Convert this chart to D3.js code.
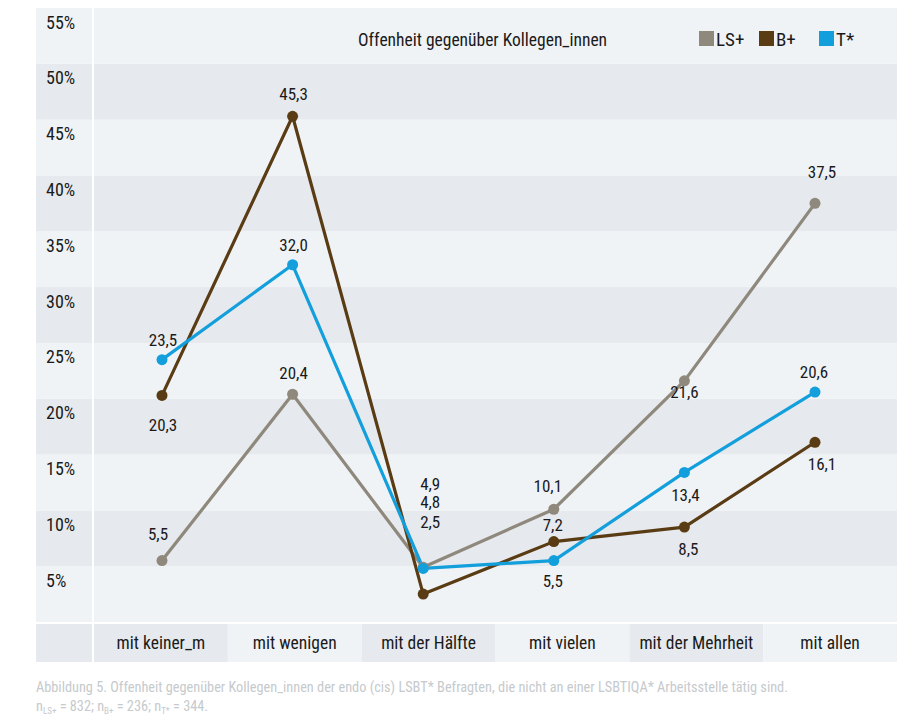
<!DOCTYPE html>
<html><head><meta charset="utf-8">
<script src="https://cdn.jsdelivr.net/npm/d3@7"></script>
<style>
html,body{margin:0;padding:0;background:#fff;}
svg{display:block;font-family:"Roboto Condensed","Liberation Sans Narrow","DejaVu Sans Condensed",sans-serif;}
</style></head>
<body><svg id="chart" width="912" height="720"></svg>
<script>
const categories = ["mit keiner_m","mit wenigen","mit der Hälfte","mit vielen","mit der Mehrheit","mit allen"];
const seriesNames = ["LS+","B+","T*"];
const valuesLS = [5.5,20.4,4.9,10.1,21.6,37.5];
const valuesB = [20.3,45.3,2.5,7.2,8.5,16.1];
const valuesT = [23.5,32.0,4.8,5.5,13.4,20.6];
const yTicks = [5,10,15,20,25,30,35,40,45,50,55];
const colors = ["#8f887c","#5a3c14","#129fdc"];
const title = "Offenheit gegenüber Kollegen_innen";
const caption1 = "Abbildung 5. Offenheit gegenüber Kollegen_innen der endo (cis) LSBT* Befragten, die nicht an einer LSBTIQA* Arbeitsstelle tätig sind.";
const sampleNames = ["LS+","B+","T*"];
const sampleSizes = [832,236,344];

// label placement (dx, dy relative to point), layout only
const labelOffsetsLS = [[-4,-21],[1,-15],[7,-77],[-6,-17],[0,17],[7,-25]];
const labelOffsetsB  = [[1,36],[1,-16],[7,-66],[-1,-11],[4,28],[7,28]];
const labelOffsetsT  = [[1,-14],[1,-14],[7,-60],[-1,26],[1,29],[-1,-14]];

const series = [
  {name: seriesNames[0], values: valuesLS, color: colors[0], offs: labelOffsetsLS},
  {name: seriesNames[1], values: valuesB, color: colors[1], offs: labelOffsetsB},
  {name: seriesNames[2], values: valuesT, color: colors[2], offs: labelOffsetsT}
];

const svg = d3.select("#chart");
const plotL = 94, plotR = 897, plotT = 8, plotB = 622;
const colL = 36, colR = 92;
const light = "#f0f3f6", dark = "#e6e9ed";
const ink = "#1a1a1a";

const y = d3.scaleLinear().domain([0,55]).range([plotB, plotT]);
const xBand = d3.scaleBand().domain(categories).range([plotL, plotR]);
const x = d3.scalePoint().domain(categories).range([162, 815]);

// background bands
const bands = svg.append("g");
yTicks.forEach(t => {
  const fill = ((t/5) % 2 === 1) ? light : dark;
  bands.append("rect").attr("x", colL).attr("y", y(t)).attr("width", colR-colL).attr("height", y(t-5)-y(t)).attr("fill", fill);
  bands.append("rect").attr("x", plotL).attr("y", y(t)).attr("width", plotR-plotL).attr("height", y(t-5)-y(t)).attr("fill", fill);
});

// y tick labels
svg.append("g").selectAll("text").data(yTicks).join("text")
  .attr("x", 46).attr("y", d => y(d) + 20.5)
  .attr("font-size", 18).attr("fill", ink)
  .text(d => d + "%");

// x axis row
const rowT = 624, rowB = 662;
svg.append("rect").attr("x", colL).attr("y", rowT).attr("width", colR-colL).attr("height", rowB-rowT).attr("fill", dark);
const xg = svg.append("g");
categories.forEach((c,i) => {
  xg.append("rect").attr("x", xBand(c)).attr("y", rowT).attr("width", xBand.bandwidth()).attr("height", rowB-rowT)
    .attr("fill", i % 2 === 0 ? dark : light);
  xg.append("text").attr("x", xBand(c) + xBand.bandwidth()/2).attr("y", 649)
    .attr("text-anchor","middle").attr("font-size", 17.5).attr("fill", ink).text(c);
});

// title & legend
svg.append("text").attr("x", 358).attr("y", 46).attr("font-size", 17.5).attr("fill", ink).text(title);
const legX = [699, 759, 819];
series.forEach((s,i) => {
  svg.append("rect").attr("x", legX[i]).attr("y", 31).attr("width", 15).attr("height", 15).attr("fill", s.color);
  svg.append("text").attr("x", legX[i] + 17).attr("y", 46).attr("font-size", 19).attr("fill", ink).text(s.name);
});

// lines
const line = d3.line().x((d,i) => x(categories[i])).y(d => y(d));
series.forEach(s => {
  svg.append("path").datum(s.values).attr("d", line).attr("fill","none")
    .attr("stroke", s.color).attr("stroke-width", 3.2).attr("stroke-linejoin","round");
});
series.forEach(s => {
  svg.append("g").selectAll("circle").data(s.values).join("circle")
    .attr("cx", (d,i) => x(categories[i])).attr("cy", d => y(d)).attr("r", 5.5).attr("fill", s.color);
});

// value labels
const fmt = v => d3.format(".1f")(v).replace(".", ",");
series.forEach(s => {
  svg.append("g").selectAll("text").data(s.values).join("text")
    .attr("x", (d,i) => x(categories[i]) + s.offs[i][0])
    .attr("y", (d,i) => y(d) + s.offs[i][1])
    .attr("text-anchor","middle").attr("font-size", 17).attr("fill", ink)
    .text(d => fmt(d));
});

// caption
const capColor = "#c6cacd";
svg.append("text").attr("x", 36).attr("y", 692).attr("font-size", 14.3).attr("fill", capColor).text(caption1);
const cap2 = svg.append("text").attr("x", 36).attr("y", 711).attr("font-size", 14.3).attr("fill", capColor);
sampleNames.forEach((n,i) => {
  cap2.append("tspan").text("n");
  cap2.append("tspan").attr("font-size", 9).attr("dy", 3).text(n);
  cap2.append("tspan").attr("dy", -3).text(" = " + sampleSizes[i] + (i < sampleNames.length - 1 ? "; " : "."));
});
</script></body></html>
